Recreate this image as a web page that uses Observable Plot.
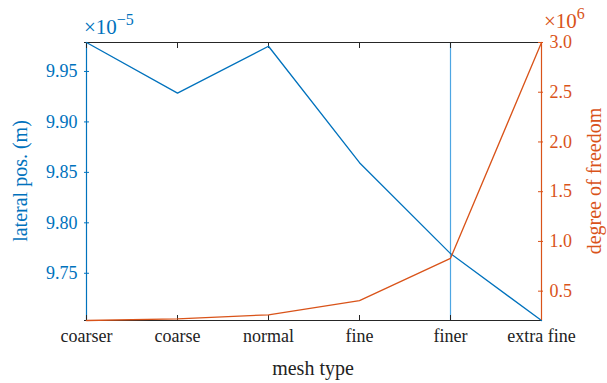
<!DOCTYPE html>
<html>
<head>
<meta charset="utf-8">
<script src="https://cdn.jsdelivr.net/npm/d3@7"></script>
<script src="https://cdn.jsdelivr.net/npm/@observablehq/plot@0.6"></script>
<style>
  html, body { margin: 0; padding: 0; background: #fff; }
  #chart { position: relative; width: 607px; height: 383px; }
  #chart svg { position: absolute; left: 0; top: 0; }
</style>
</head>
<body>
<div id="chart"></div>
<script>
// Mesh refinement study: lateral position (left axis, ×1e-5 m) and degrees of freedom (right axis, ×1e6)
const meshTypes = ["coarser", "coarse", "normal", "fine", "finer", "extra fine"];
const lateralPos = [9.9787, 9.9285, 9.975, 9.8596, 9.7695, 9.7032];   // ×10^-5 m
const dof = [0.205, 0.222, 0.262, 0.404, 0.83, 3.0];                   // ×10^6
const markedMesh = ["finer"];
const leftTicks = [9.75, 9.80, 9.85, 9.90, 9.95];
const rightTicks = [0.5, 1.0, 1.5, 2.0, 2.5, 3.0];

const blue = "#0072BD";
const orange = "#D95319";
const gray = "#262626";
const W = 607, H = 383;
const margins = {marginLeft: 84, marginRight: 65, marginTop: 42, marginBottom: 63};
const font = "'Liberation Serif', 'Times New Roman', serif";

const posRows = meshTypes.map((m, i) => ({mesh: m, v: lateralPos[i]}));
const dofRows = meshTypes.map((m, i) => ({mesh: m, v: dof[i]}));
const leftDomain = [d3.min(lateralPos), d3.max(lateralPos)];
const rightDomain = [d3.min(dof), d3.max(dof)];

// Left chart: frame, x axis, lateral position
const left = Plot.plot({
  width: W, height: H, ...margins,
  style: {fontFamily: font, fontSize: "18px", background: "transparent", overflow: "visible"},
  x: {type: "point", domain: meshTypes, padding: 0},
  y: {domain: leftDomain},
  marks: [
    Plot.ruleX(markedMesh, {stroke: "#4DA6E3", strokeWidth: 1.2}),
    Plot.ruleY([leftDomain[1]], {stroke: gray, strokeWidth: 1.2}),
    Plot.ruleY([leftDomain[0]], {stroke: gray, strokeWidth: 1.2}),
    Plot.ruleX([meshTypes[0]], {stroke: blue, strokeWidth: 1.2}),
    Plot.axisX({anchor: "bottom", tickSize: -5, tickPadding: 14, stroke: gray, color: "#222", label: null}),
    Plot.axisX({anchor: "top", tickSize: -5, tickFormat: () => "", stroke: gray, label: null}),
    Plot.axisY({anchor: "left", ticks: leftTicks, tickFormat: d => d.toFixed(2), tickSize: -5, tickPadding: 12,
                stroke: blue, color: blue, label: null}),
    Plot.line(posRows, {x: "mesh", y: "v", stroke: blue, strokeWidth: 1.3})
  ]
});

// Right chart: degrees of freedom on its own y scale
const right = Plot.plot({
  width: W, height: H, ...margins,
  style: {fontFamily: font, fontSize: "18px", background: "transparent", overflow: "visible"},
  x: {type: "point", domain: meshTypes, padding: 0, axis: null},
  y: {domain: rightDomain},
  marks: [
    Plot.ruleX([meshTypes[meshTypes.length - 1]], {stroke: orange, strokeWidth: 1.2}),
    Plot.axisY({anchor: "right", ticks: rightTicks, tickFormat: d => d.toFixed(1), tickSize: -5, tickPadding: 12,
                stroke: orange, color: orange, label: null}),
    Plot.line(dofRows, {x: "mesh", y: "v", stroke: orange, strokeWidth: 1.3})
  ]
});

const chart = document.getElementById("chart");
chart.append(left, right);

// Axis titles and exponent multipliers
const svg = d3.select(right);
function label(x, y, text, color, rotate) {
  return svg.append("text")
    .attr("transform", `translate(${x},${y})` + (rotate ? ` rotate(${rotate})` : ""))
    .attr("text-anchor", "middle")
    .attr("fill", color)
    .style("font-family", font)
    .style("font-size", "20px")
    .text(text);
}
label(313, 375, "mesh type", "#222", 0);
label(27, 181, "lateral pos. (m)", blue, -90);
label(601, 181, "degree of freedom", orange, -90);

function multiplier(x, y, exp, color) {
  const t = svg.append("text")
    .attr("x", x).attr("y", y)
    .attr("text-anchor", "start")
    .attr("fill", color)
    .style("font-family", font)
    .style("font-size", "21px");
  t.append("tspan").text("×10");
  t.append("tspan").attr("dy", -9).style("font-size", "16px").text(exp);
}
multiplier(84, 34, "−5", blue);
multiplier(544, 28, "6", orange);
</script>
</body>
</html>
